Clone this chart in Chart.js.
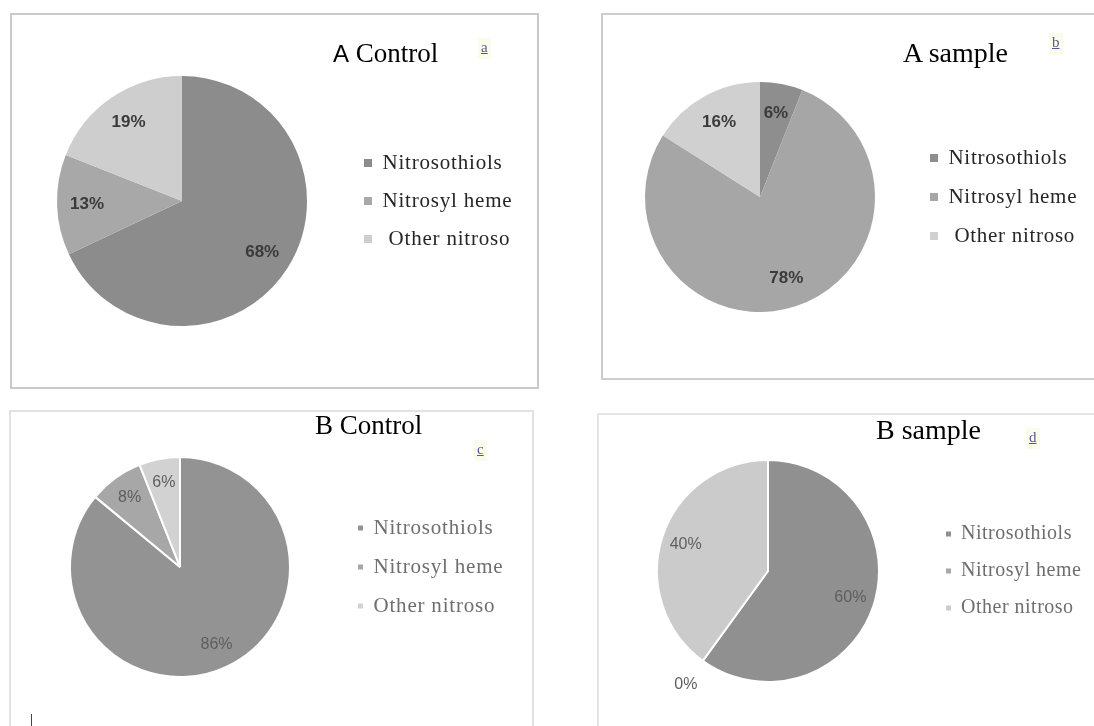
<!DOCTYPE html>
<html>
<head>
<meta charset="utf-8">
<script src="https://cdn.jsdelivr.net/npm/chart.js@4/dist/chart.umd.min.js"></script>
<style>
    html, body { margin: 0; padding: 0; background: #fff; }
    body { position: relative; width: 1094px; height: 726px; overflow: hidden; }
    .panel { position: absolute; box-sizing: border-box; border: 2px solid #c9c9c9; }
    .pie { position: absolute; filter: blur(0.6px); }
    .title { position: absolute; font-family: 'Liberation Serif', serif; font-size: 27px; line-height: 1; color: #000; white-space: nowrap; }
    .tag { position: absolute; font-family: 'Liberation Serif', serif; font-size: 15px; line-height: 1; color: #56569a; text-decoration: underline; background: #fbfbec; padding: 2px 3px 4px; filter: blur(0.4px); }
    .tick { position: absolute; left: 31px; top: 714px; width: 1px; height: 12px; background: #444; }
</style>
</head>
<body>

<div class="panel" style="left:10px; top:13px; width:529px; height:376px;"></div>
<div class="panel" style="left:601px; top:13px; width:520px; height:367px; border-color:#cdcdcd;"></div>
<div class="panel" style="left:9px; top:410px; width:525px; height:340px; border-color:#e2e2e2;"></div>
<div class="panel" style="left:597px; top:413px; width:520px; height:340px; border-color:#e4e4e4;"></div>
<div class="tick"></div>

<script>
const categories = ['Nitrosothiols', 'Nitrosyl heme', 'Other nitroso'];

const aControl = [68, 13, 19];
const aSample = [6, 78, 16];
const bControl = [86, 8, 6];
const bSample = [60, 0, 40];

const panelTitles = ['A Control', 'A sample', 'B Control', 'B sample'];
const panelTags = ['a', 'b', 'c', 'd'];

const panels = [
    {
        values: aControl, colors: ['#8c8c8c', '#a8a8a8', '#cecece'],
        canvas: { left: 12, top: 15, width: 525, height: 372 },
        cx: 182, cy: 201, r: 125, sep: 0,
        legend: { boxX: 364, box: 8, size: 21, pad: 17, color: '#262626', spacing: '0.8px', indentLast: true },
        labels: { font: 'bold 17px "Liberation Sans"', color: '#3a3a3a', inside: 0.76 },
        title: { x: 333, y: 40, size: 27, sansInitial: true }, tag: { x: 478, y: 38 }
    },
    {
        values: aSample, colors: ['#8e8e8e', '#a6a6a6', '#d0d0d0'],
        canvas: { left: 603, top: 15, width: 491, height: 363 },
        cx: 760, cy: 197, r: 115, sep: 0,
        legend: { boxX: 930, box: 8, size: 21, pad: 18, color: '#262626', spacing: '0.7px', indentLast: true },
        labels: { font: 'bold 17px "Liberation Sans"', color: '#3a3a3a', inside: 0.74 },
        title: { x: 903, y: 39, size: 28 }, tag: { x: 1049, y: 33 }
    },
    {
        values: bControl, colors: ['#939393', '#a7a7a7', '#d2d2d2'],
        canvas: { left: 11, top: 412, width: 521, height: 314 },
        cx: 180, cy: 567, r: 110, sep: 2,
        legend: { boxX: 358, box: 5, size: 21, pad: 18, color: '#6e6e6e', spacing: '0.8px' },
        labels: { font: '16px "Liberation Sans"', color: '#5e5e5e', inside: 0.78 },
        title: { x: 315, y: 412, size: 27 }, tag: { x: 474, y: 440 }
    },
    {
        values: bSample, colors: ['#909090', '#a8a8a8', '#cbcbcb'],
        canvas: { left: 599, top: 415, width: 495, height: 311 },
        cx: 768, cy: 571, r: 111, sep: 2,
        legend: { boxX: 946, box: 5, size: 20, pad: 17, color: '#6e6e6e', spacing: '0.5px' },
        labels: { font: '16px "Liberation Sans"', color: '#5e5e5e', inside: 0.78 },
        title: { x: 876, y: 416, size: 28 }, tag: { x: 1026, y: 428 }
    }
];

// legend text is a little spread out; the canvas resets its state on resize,
// so set the spacing again right before layout and drawing
const spreadText = {
    id: 'spreadText',
    beforeUpdate(chart, args, opts) {
        chart.ctx.letterSpacing = opts.spacing;
    },
    beforeDraw(chart, args, opts) {
        chart.ctx.letterSpacing = opts.spacing;
    }
};

// percentage text on each slice; empty slices get theirs outside the rim
const sliceLabels = {
    id: 'sliceLabels',
    afterDatasetsDraw(chart, args, opts) {
        const ctx = chart.ctx;
        const values = chart.data.datasets[0].data;
        ctx.save();
        ctx.letterSpacing = '0px';
        ctx.font = opts.font;
        ctx.fillStyle = opts.color;
        ctx.textAlign = 'center';
        ctx.textBaseline = 'middle';
        chart.getDatasetMeta(0).data.forEach((arc, i) => {
            const { x, y, startAngle, endAngle, outerRadius } = arc.getProps(['x', 'y', 'startAngle', 'endAngle', 'outerRadius'], true);
            const mid = (startAngle + endAngle) / 2;
            const d = outerRadius * (values[i] === 0 ? 1.26 : opts.inside);
            ctx.fillText(values[i] + '%', x + Math.cos(mid) * d, y + Math.sin(mid) * d);
        });
        ctx.restore();
    }
};

const baseLabels = Chart.overrides.pie.plugins.legend.labels.generateLabels;

function legendText(p) {
    return categories.map((t, i) => (p.legend.indentLast && i === categories.length - 1 ? ' ' + t : t));
}

// width the legend box will take, measured the same way Chart.js does
function legendWidth(p) {
    const ctx = document.createElement('canvas').getContext('2d');
    ctx.font = p.legend.size + 'px "Liberation Serif"';
    ctx.letterSpacing = p.legend.spacing;
    const text = Math.max(...legendText(p).map(t => ctx.measureText(t).width));
    return p.legend.pad + p.legend.box + p.legend.size / 2 + text + 10;
}

function makePanel(p, idx) {
    const c = p.canvas;
    const cx = p.cx - c.left;
    const cy = p.cy - c.top;
    const legendLeft = p.legend.boxX - c.left - p.legend.pad;
    const texts = legendText(p);

    const canvas = document.createElement('canvas');
    canvas.className = 'pie';
    canvas.width = c.width;
    canvas.height = c.height;
    canvas.style.left = c.left + 'px';
    canvas.style.top = c.top + 'px';
    document.body.appendChild(canvas);

    new Chart(canvas, {
        type: 'pie',
        data: {
            labels: categories,
            datasets: [{
                data: p.values,
                backgroundColor: p.colors,
                borderColor: '#ffffff',
                borderWidth: p.sep,
                hoverOffset: 0
            }]
        },
        plugins: [spreadText, sliceLabels],
        options: {
            responsive: false,
            animation: false,
            radius: p.r,
            layout: {
                padding: {
                    left: 2 * cx - legendLeft,
                    right: Math.max(0, c.width - legendLeft - legendWidth(p)),
                    top: cy - p.r,
                    bottom: c.height - cy - p.r
                }
            },
            plugins: {
                tooltip: { enabled: false },
                legend: {
                    position: 'right',
                    labels: {
                        boxWidth: p.legend.box,
                        boxHeight: p.legend.box,
                        padding: p.legend.pad,
                        color: p.legend.color,
                        font: { family: 'Liberation Serif', size: p.legend.size },
                        generateLabels: (chart) => baseLabels(chart).map((item, i) => ({ ...item, text: texts[i], lineWidth: 0 }))
                    }
                },
                spreadText: { spacing: p.legend.spacing },
                sliceLabels: {
                    font: p.labels.font,
                    color: p.labels.color,
                    inside: p.labels.inside
                }
            }
        }
    });

    const title = document.createElement('div');
    title.className = 'title';
    title.style.left = p.title.x + 'px';
    title.style.top = p.title.y + 'px';
    title.style.fontSize = p.title.size + 'px';
    const text = panelTitles[idx];
    if (p.title.sansInitial) {
        const first = document.createElement('span');
        first.style.fontFamily = '"Liberation Sans", sans-serif';
        first.style.fontSize = '24px';
        first.textContent = text[0];
        title.appendChild(first);
        title.appendChild(document.createTextNode(text.slice(1)));
    } else {
        title.textContent = text;
    }
    document.body.appendChild(title);

    const tag = document.createElement('div');
    tag.className = 'tag';
    tag.style.left = p.tag.x + 'px';
    tag.style.top = p.tag.y + 'px';
    tag.textContent = panelTags[idx];
    document.body.appendChild(tag);
}

panels.forEach(makePanel);
</script>
</body>
</html>
